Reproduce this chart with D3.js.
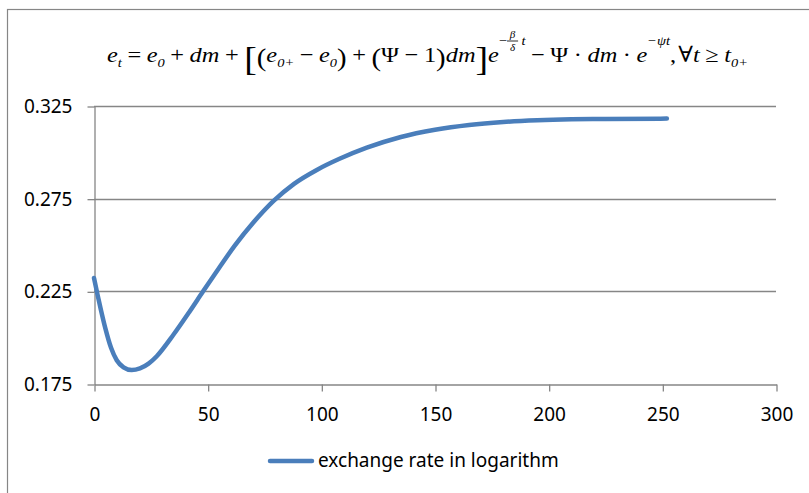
<!DOCTYPE html>
<html>
<head>
<meta charset="utf-8">
<script src="https://cdn.jsdelivr.net/npm/d3@7"></script>
<style>
  body { margin: 0; background: #fff; }
  svg text { font-family: "Noto Sans", "Open Sans", sans-serif; }
</style>
</head>
<body>
<div id="chart"></div>
<script>
// values
const tValues = [0, 1.5, 3, 5, 7.5, 10, 13, 16.6, 20.2, 24, 27.6, 35, 42, 48, 55, 62, 70, 79, 88, 98, 108, 120, 135, 150, 165, 180, 195, 210, 225, 252];
const rateValues = [0.2322, 0.2235, 0.2152, 0.2050, 0.1945, 0.1878, 0.1840, 0.1825, 0.1834, 0.1860, 0.1900, 0.2017, 0.2140, 0.2250, 0.2376, 0.2498, 0.2620, 0.2738, 0.2830, 0.2905, 0.2965, 0.3025, 0.3083, 0.3122, 0.3148, 0.3164, 0.3173, 0.3178, 0.3180, 0.3182];
const xTicks = [0, 50, 100, 150, 200, 250, 300];
const yTicks = [0.175, 0.225, 0.275, 0.325];
const yLabels = ["0.175", "0.225", "0.275", "0.325"];
const seriesName = "exchange rate in logarithm";

const width = 809, height = 493;
const grey = "#868686", blue = "#4A7EBB";

const svg = d3.select("#chart").append("svg")
  .attr("width", width)
  .attr("height", height);

// chart frame (runs off right and bottom edges)
svg.append("rect")
  .attr("x", 7.5).attr("y", 9.5)
  .attr("width", 840).attr("height", 520)
  .attr("fill", "none").attr("stroke", grey).attr("stroke-width", 1.2);

const x = d3.scaleLinear().domain([0, 300]).range([94, 776]);
const y = d3.scaleLinear().domain([0.175, 0.325]).range([384, 106]);

// gridlines
svg.append("g")
  .selectAll("line")
  .data(yTicks.slice(1))
  .join("line")
    .attr("x1", x(0)).attr("x2", x(300))
    .attr("y1", d => Math.round(y(d)) + 0.5)
    .attr("y2", d => Math.round(y(d)) + 0.5)
    .attr("stroke", grey).attr("stroke-width", 1.3);

// y axis
const yAxis = svg.append("g")
  .attr("transform", `translate(${x(0) + 0.5},0.5)`)
  .call(d3.axisLeft(y).tickValues(yTicks).tickFormat((d, i) => yLabels[i]).tickSize(7).tickSizeOuter(0));
yAxis.selectAll("text")
  .attr("x", -22)
  .attr("fill", "#000")
  .style("font-size", "19px");

// x axis
const xAxis = svg.append("g")
  .attr("transform", `translate(0.5,${y(0.175) + 0.5})`)
  .call(d3.axisBottom(x).tickValues(xTicks).tickFormat(d3.format("d")).tickSize(7).tickSizeOuter(0));
xAxis.selectAll("text")
  .attr("y", 36).attr("dy", 0)
  .attr("fill", "#000")
  .style("font-size", "19px");

svg.selectAll(".domain, .tick line")
  .attr("stroke", grey).attr("stroke-width", 1.3);
svg.selectAll(".tick text").attr("font-family", null);

// series line
const line = d3.line()
  .x((d, i) => x(tValues[i]))
  .y(d => y(d))
  .curve(d3.curveMonotoneX);

svg.append("path")
  .datum(rateValues)
  .attr("d", line)
  .attr("fill", "none")
  .attr("stroke", blue)
  .attr("stroke-width", 4.5)
  .attr("stroke-linecap", "round")
  .attr("stroke-linejoin", "round");

// legend
svg.append("line")
  .attr("x1", 270).attr("x2", 312)
  .attr("y1", 461).attr("y2", 461)
  .attr("stroke", blue).attr("stroke-width", 4.5)
  .attr("stroke-linecap", "round");
svg.append("text")
  .attr("x", 318).attr("y", 467)
  .style("font-size", "19px")
  .text(seriesName);

// title formula, laid out piece by piece
const f = svg.append("g");
const B = 62;
let cx = 0;
function piece(txt, opts = {}) {
  const size = opts.size || 22;
  const t = f.append("text")
    .attr("x", cx)
    .attr("y", B + (opts.dy || 0))
    .style("font-family", "'Liberation Serif', 'DejaVu Serif', serif")
    .style("font-style", opts.italic ? "italic" : "normal")
    .style("font-size", size + "px")
    .text(txt);
  cx += t.node().getComputedTextLength() + (opts.gap || 0);
}
const it = (s, g) => piece(s, { italic: true, gap: g || 0 });
const rm = (s, g) => piece(s, { gap: g || 0 });
const sub = (s, g) => piece(s, { size: 13, dy: 5, italic: true, gap: g || 0 });
const sup = (s, it, g) => piece(s, { size: 13, dy: -17, italic: it, gap: g || 0 });
const op = s => { cx += 5; piece(s); cx += 5; };
function frac(num, den) {
  const start = cx;
  f.append("text").attr("x", start + 5).attr("y", B - 24).attr("text-anchor", "middle")
    .style("font-family", "'Liberation Serif', serif").style("font-style", "italic")
    .style("font-size", "10px").text(num);
  f.append("text").attr("x", start + 5).attr("y", B - 11).attr("text-anchor", "middle")
    .style("font-family", "'Liberation Serif', serif").style("font-style", "italic")
    .style("font-size", "10px").text(den);
  f.append("line").attr("x1", start).attr("x2", start + 10)
    .attr("y1", B - 21).attr("y2", B - 21).attr("stroke", "#000").attr("stroke-width", 0.8);
  cx += 13;
}

it("e"); sub("t");
op("=");
it("e"); sub("0");
op("+");
it("dm");
op("+");
piece("[", { size: 34, dy: 8 }); piece("(", { size: 26, dy: 4 });
it("e"); sub("0+");
op("−");
it("e"); sub("0");
piece(")", { size: 26, dy: 4 });
op("+");
piece("(", { size: 26, dy: 4 }); rm("Ψ"); op("−"); rm("1"); piece(")", { size: 26, dy: 4 });
it("dm");
piece("]", { size: 34, dy: 8 });
it("e");
sup("−"); frac("β", "δ"); sup("t", true);
op("−");
rm("Ψ"); op("·"); it("dm"); op("·"); it("e");
sup("−ψt", true);
rm(", ", 2);
rm("∀"); it("t"); op("≥"); it("t"); sub("0+");

const bb = f.node().getBBox();
const sx = (748 - 107) / bb.width;
f.attr("transform", `translate(${107 - bb.x * sx},0) scale(${sx},1)`);
</script>
</body>
</html>
